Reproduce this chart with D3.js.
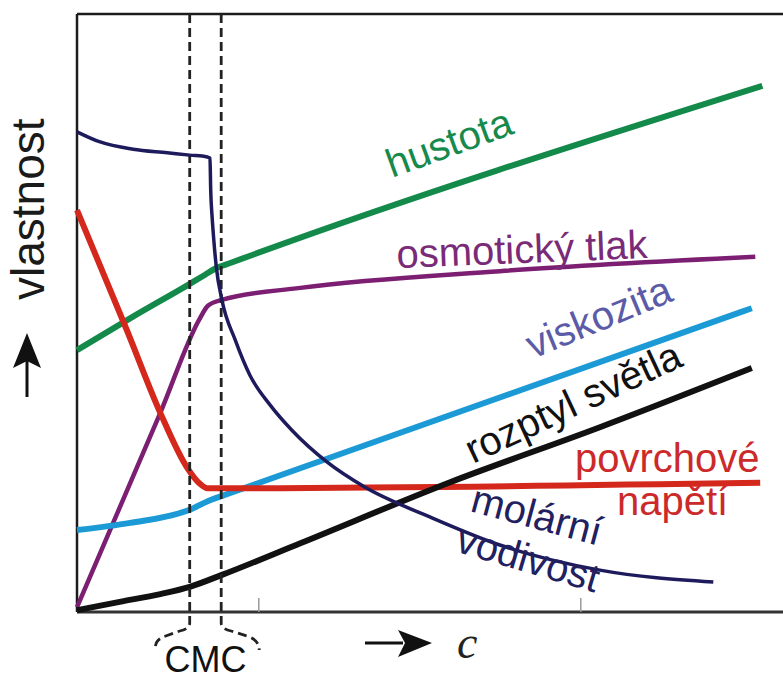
<!DOCTYPE html>
<meta charset="utf-8">
<style>
body { margin: 0; background: #fff; }
svg { display: block; background: #fff; }

.frame { fill: none; stroke: #1c1c1c; stroke-width: 2.5; }
.frame.bottom { stroke: #333; stroke-width: 3; }

.series { fill: none; stroke-linejoin: round; }

.cmc { fill: none; stroke: #222; stroke-width: 2.8; stroke-dasharray: 9,5; }

.axis .domain { display: none; }
.axis .tick line { stroke: #9a9a9a; stroke-width: 1.5; }

.label {
  font-family: "Liberation Sans", Arial, sans-serif;
  font-size: 40px;
}
</style>
<body>
<script src="https://d3js.org/d3.v7.min.js"></script>
<script>
// concentration c (arbitrary units) and property value (arbitrary units)
var cmcBounds = [1.61, 2.06];
var axisTicks = [2.59, 7.19];

var hustotaX = [0, 0.8, 1.6, 1.83, 1.97, 2.2, 9.79];
var hustotaY = [4.38, 4.94, 5.48, 5.64, 5.74, 5.84, 8.80];

var osmotickyX = [0, 1.19, 1.76, 1.87, 2.07, 3.19, 6.04, 9.69];
var osmotickyY = [0.08, 3.33, 4.92, 5.12, 5.22, 5.42, 5.70, 5.94];

var viskozitaX = [0, 0.76, 1.61, 1.9, 2.19, 9.64];
var viskozitaY = [1.37, 1.49, 1.71, 1.87, 1.99, 5.08];

var rozptylX = [0, 0.61, 1.19, 1.61, 2.07, 3.19, 5.33, 7.47, 9.64];
var rozptylY = [0.03, 0.17, 0.30, 0.42, 0.62, 1.15, 2.17, 3.09, 4.08];

var napetiX = [0, 0.71, 1.19, 1.57, 1.76, 1.86, 1.95, 9.76];
var napetiY = [6.72, 4.72, 3.33, 2.42, 2.14, 2.07, 2.07, 2.16];

var vodivostX = [0, 0.33, 0.8, 1.29, 1.61, 1.86, 1.9, 1.91, 1.93, 1.96, 1.99, 2.07, 2.26, 2.47, 2.76, 3.07, 3.57, 4.11, 5.04, 6.04, 7.47, 9.09];
var vodivostY = [8.03, 7.86, 7.74, 7.68, 7.64, 7.61, 7.59, 7.06, 6.61, 6.14, 5.77, 5.22, 4.55, 3.96, 3.46, 3.04, 2.51, 2.09, 1.59, 1.12, 0.70, 0.50];

var margin = {top: 14, right: 0, bottom: 67, left: 77},
    width = 783 - margin.left - margin.right,
    height = 679 - margin.top - margin.bottom;

var svg = d3.select("body").append("svg")
    .attr("width", 783)
    .attr("height", 679);

var g = svg.append("g")
    .attr("transform", "translate(" + margin.left + "," + margin.top + ")");

var x = d3.scaleLinear().domain([0, 10]).range([0, 700]);
var y = d3.scaleLinear().domain([0, 10]).range([height, 0]);

var line = d3.line()
    .x(function(d) { return x(d[0]); })
    .y(function(d) { return y(d[1]); })
    .curve(d3.curveMonotoneX);

function pts(xs, ys) { return xs.map(function(v, i) { return [v, ys[i]]; }); }

// frame
g.append("line").attr("class", "frame")
    .attr("x1", 0).attr("y1", 0).attr("x2", width).attr("y2", 0);
g.append("line").attr("class", "frame")
    .attr("x1", 0).attr("y1", 0).attr("x2", 0).attr("y2", height);
g.append("line").attr("class", "frame bottom")
    .attr("x1", 0).attr("y1", height).attr("x2", width).attr("y2", height);

g.append("g")
    .attr("class", "axis")
    .attr("transform", "translate(0," + height + ")")
    .call(d3.axisBottom(x).tickValues(axisTicks).tickSizeInner(-14).tickSizeOuter(0).tickFormat(""));

var series = [
  {name: "osmotický tlak", data: pts(osmotickyX, osmotickyY), color: "#7c1f72", w: 4.5},
  {name: "hustota", data: pts(hustotaX, hustotaY), color: "#13894a", w: 6},
  {name: "viskozita", data: pts(viskozitaX, viskozitaY), color: "#1b9ad6", w: 6},
  {name: "povrchové napětí", data: pts(napetiX, napetiY), color: "#d4281d", w: 6},
  {name: "rozptyl světla", data: pts(rozptylX, rozptylY), color: "#111111", w: 6}
];

g.selectAll(".series.main")
    .data(series)
  .enter().append("path")
    .attr("class", "series main")
    .attr("d", function(d) { return line(d.data); })
    .attr("stroke", function(d) { return d.color; })
    .attr("stroke-width", function(d) { return d.w; });

// CMC dashed lines with brace
var xl = x(cmcBounds[0]), xr = x(cmcBounds[1]);
var pl = d3.path();
pl.moveTo(xl, 0); pl.lineTo(xl, height + 11);
pl.quadraticCurveTo(xl, height + 17, xl - 10, height + 19);
pl.lineTo(xl - 24, height + 24);
pl.quadraticCurveTo(xl - 36, height + 28, xl - 34, height + 38);
var pr = d3.path();
pr.moveTo(xr, 0); pr.lineTo(xr, height + 11);
pr.quadraticCurveTo(xr, height + 17, xr + 10, height + 19);
pr.lineTo(xr + 26, height + 24);
pr.quadraticCurveTo(xr + 38, height + 28, xr + 38, height + 38);
g.append("path").attr("class", "cmc").attr("d", pl.toString());
g.append("path").attr("class", "cmc").attr("d", pr.toString());

// molární vodivost on top
g.append("path")
    .attr("class", "series")
    .attr("d", line(pts(vodivostX, vodivostY)))
    .attr("stroke", "#1e1b5c")
    .attr("stroke-width", 3.5);

// curve labels
var labels = [
  {t: "hustota", px: 315, py: 164, a: -20, c: "#168a4c"},
  {t: "osmotický tlak", px: 320, py: 254, a: -2.3, c: "#7a2b78"},
  {t: "viskozita", px: 456, py: 345, a: -22.5, c: "#5b5ba8"},
  {t: "rozptyl světla", px: 396, py: 450, a: -25, c: "#111111"},
  {t: "povrchové", px: 498, py: 458, a: 0, c: "#cc2a2a"},
  {t: "napětí", px: 540, py: 501, a: 0, c: "#cc2a2a"},
  {t: "molární", px: 392, py: 497, a: 15, c: "#22205e"},
  {t: "vodivost", px: 377, py: 537, a: 16.5, c: "#22205e"}
];

g.selectAll(".label.curve")
    .data(labels)
  .enter().append("text")
    .attr("class", "label curve")
    .attr("transform", function(d) { return "translate(" + d.px + "," + d.py + ") rotate(" + d.a + ")"; })
    .attr("fill", function(d) { return d.c; })
    .text(function(d) { return d.t; });

// CMC text
g.append("text")
    .attr("class", "label")
    .attr("x", (xl + xr) / 2)
    .attr("y", height + 60)
    .attr("text-anchor", "middle")
    .style("font-size", "36px")
    .attr("fill", "#111")
    .text("CMC");

// x axis arrow and c
g.append("line")
    .attr("x1", 288).attr("y1", 629).attr("x2", 326).attr("y2", 629)
    .attr("stroke", "#111").attr("stroke-width", 3);
g.append("path")
    .attr("d", "M355,629 L321,616 L328,629 L321,643 Z")
    .attr("fill", "#111");
g.append("text")
    .attr("x", 380).attr("y", 644)
    .style("font-family", "'Liberation Serif', 'Times New Roman', serif")
    .style("font-style", "italic")
    .style("font-size", "46px")
    .attr("fill", "#222")
    .text("c");

// y axis arrow and label
g.append("line")
    .attr("x1", -50).attr("y1", 383).attr("x2", -50).attr("y2", 345)
    .attr("stroke", "#111").attr("stroke-width", 3);
g.append("path")
    .attr("d", "M-50,319 L-64,354 L-50,347 L-36,354 Z")
    .attr("fill", "#111");
g.append("text")
    .attr("class", "label")
    .attr("transform", "translate(-33,286) rotate(-90)")
    .style("font-size", "46px")
    .attr("fill", "#1a1a1a")
    .text("vlastnost");
</script>
</body>
